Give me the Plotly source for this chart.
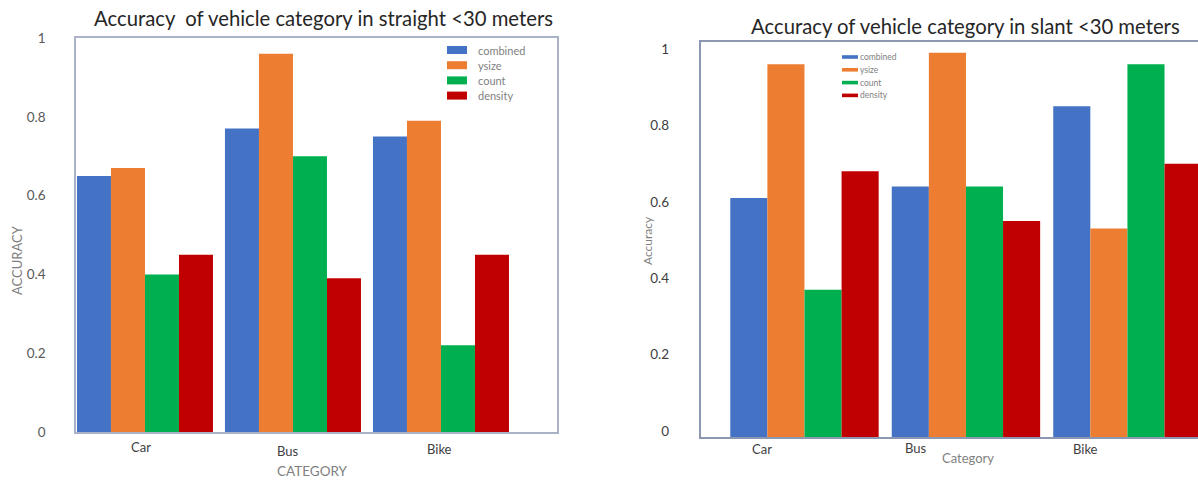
import plotly.graph_objects as go

# ---- data -------------------------------------------------------------
categories = ["Car", "Bus", "Bike"]
series_names = ["combined", "ysize", "count", "density"]

straight_combined = [0.65, 0.77, 0.75]
straight_ysize = [0.67, 0.96, 0.79]
straight_count = [0.40, 0.70, 0.22]
straight_density = [0.45, 0.39, 0.45]

slant_combined = [0.61, 0.64, 0.85]
slant_ysize = [0.96, 0.99, 0.53]
slant_count = [0.37, 0.64, 0.96]
slant_density = [0.68, 0.55, 0.70]

y_ticks = [0, 0.2, 0.4, 0.6, 0.8, 1.0]
y_tick_text = ["0", "0.2", "0.4", "0.6", "0.8", "1"]

# ---- styling ----------------------------------------------------------
colors = ["#4472C4", "#ED7D31", "#00B050", "#C00000"]
FONT = "Lato, 'Open Sans', sans-serif"
TICK_COLOR = "#595959"
LABEL_COLOR = "#404040"
FRAME_LEFT = "#A9B2C7"
FRAME_RIGHT = "#8C97B1"
W, H = 1198, 481

# pixel helpers for paper coordinates (origin top-left)
def px(x):
    return x / W

def py(y):
    return 1 - y / H

straight = [straight_combined, straight_ysize, straight_count, straight_density]
slant = [slant_combined, slant_ysize, slant_count, slant_density]

# floor of the right-hand value axis; bars rest on the axis line there
SLANT_YMIN = -0.018

fig = go.Figure()

for name, vals, col in zip(series_names, straight, colors):
    fig.add_trace(go.Bar(
        x=categories, y=vals, name=name, marker_color=col,
        marker_line_width=0, xaxis="x", yaxis="y", showlegend=False,
    ))

for name, vals, col in zip(series_names, slant, colors):
    fig.add_trace(go.Bar(
        x=categories, y=[v - SLANT_YMIN for v in vals], base=SLANT_YMIN,
        customdata=vals, hovertemplate="%{x}: %{customdata}<extra>" + name + "</extra>",
        name=name, marker_color=col, marker_line_width=0,
        xaxis="x2", yaxis="y2", showlegend=False,
    ))

annotations = []
shapes = []

# ---- left panel: straight ---------------------------------------------
annotations.append(dict(
    text="Accuracy  of vehicle category in straight <30 meters",
    xref="paper", yref="paper", x=px(323), y=py(18), showarrow=False,
    font=dict(family=FONT, size=20.3, color="#262626"), xanchor="center", yanchor="middle",
))
left_cat_shift = [(-4, 447), (-5, 451), (-1, 449)]
for cat, (dx, yy) in zip(categories, left_cat_shift):
    annotations.append(dict(
        text=cat, xref="x", yref="paper", x=cat, y=py(yy), xshift=dx,
        showarrow=False, font=dict(family=FONT, size=13, color=LABEL_COLOR),
        xanchor="center", yanchor="middle",
    ))
annotations.append(dict(
    text="CATEGORY", xref="paper", yref="paper", x=px(312), y=py(471),
    showarrow=False, font=dict(family=FONT, size=13.5, color="#7F7F7F"),
    xanchor="center", yanchor="middle",
))
annotations.append(dict(
    text="ACCURACY", xref="paper", yref="paper", x=px(17), y=py(260),
    showarrow=False, textangle=-90, font=dict(family=FONT, size=13, color="#7F7F7F"),
    xanchor="center", yanchor="middle",
))

# legend block for the left panel
for i, (name, col) in enumerate(zip(series_names, colors)):
    cy = 50 + i * 15.2
    shapes.append(dict(type="rect", xref="paper", yref="paper",
                       x0=px(447), x1=px(467), y0=py(cy - 4), y1=py(cy + 4),
                       fillcolor=col, line_width=0))
    annotations.append(dict(
        text=name, xref="paper", yref="paper", x=px(476), y=py(cy),
        showarrow=False, font=dict(family=FONT, size=11, color="#7F7F7F"),
        xanchor="left", yanchor="middle",
    ))

# ---- right panel: slant -----------------------------------------------
annotations.append(dict(
    text="Accuracy of vehicle category in slant <30 meters",
    xref="paper", yref="paper", x=px(965), y=py(26), showarrow=False,
    font=dict(family=FONT, size=20.3, color="#262626"), xanchor="center", yanchor="middle",
))
right_cat_shift = [(-42, 449), (-50, 448), (-42, 449)]
for cat, (dx, yy) in zip(categories, right_cat_shift):
    annotations.append(dict(
        text=cat, xref="x2", yref="paper", x=cat, y=py(yy), xshift=dx,
        showarrow=False, font=dict(family=FONT, size=13, color=LABEL_COLOR),
        xanchor="center", yanchor="middle",
    ))
annotations.append(dict(
    text="Category", xref="paper", yref="paper", x=px(968), y=py(458),
    showarrow=False, font=dict(family=FONT, size=13, color="#7F7F7F"),
    xanchor="center", yanchor="middle",
))
annotations.append(dict(
    text="Accuracy", xref="paper", yref="paper", x=px(647), y=py(240),
    showarrow=False, textangle=-90, font=dict(family=FONT, size=12, color="#7F7F7F"),
    xanchor="center", yanchor="middle",
))

# compact legend block for the right panel
for i, (name, col) in enumerate(zip(series_names, colors)):
    cy = 57 + i * 12.8
    shapes.append(dict(type="rect", xref="paper", yref="paper",
                       x0=px(842), x1=px(858), y0=py(cy - 1.8), y1=py(cy + 1.8),
                       fillcolor=col, line_width=0))
    annotations.append(dict(
        text=name, xref="paper", yref="paper", x=px(858), y=py(cy),
        showarrow=False, font=dict(family=FONT, size=8.5, color="#7F7F7F"),
        xanchor="left", yanchor="middle",
    ))

# right frame; its right edge runs off the canvas
shapes.append(dict(type="rect", xref="paper", yref="paper",
                   x0=px(700), x1=1.01, y0=py(438), y1=py(41),
                   line=dict(color=FRAME_RIGHT, width=2), fillcolor="rgba(0,0,0,0)",
                   layer="above"))

fig.update_layout(
    width=W, height=H,
    margin=dict(l=0, r=0, t=0, b=0, pad=0, autoexpand=False),
    paper_bgcolor="white", plot_bgcolor="white",
    barmode="group",
    bargap=0.081,
    font=dict(family=FONT),
    xaxis=dict(
        domain=[px(76), px(557)], range=[-0.466, 2.784],
        showticklabels=False, ticks="", showgrid=False, zeroline=False,
        showline=True, mirror=True, linecolor=FRAME_LEFT, linewidth=1.5,
        anchor="y", automargin=False,
    ),
    yaxis=dict(
        domain=[py(432), py(38)], range=[0, 1],
        tickvals=y_ticks, ticktext=y_tick_text, ticks="", ticklabelstandoff=26,
        tickfont=dict(family=FONT, size=13.5, color=TICK_COLOR),
        showgrid=False, zeroline=False,
        showline=True, mirror=True, linecolor=FRAME_LEFT, linewidth=1.5,
        anchor="x", automargin=False,
    ),
    xaxis2=dict(
        domain=[px(700), 1.0], range=[-0.647, 2.437],
        showticklabels=False, ticks="", showgrid=False, zeroline=False,
        showline=False, anchor="y2", automargin=False,
    ),
    yaxis2=dict(
        domain=[py(438), py(41)], range=[SLANT_YMIN, 1.021],
        tickvals=y_ticks, ticktext=y_tick_text, ticks="", ticklabelstandoff=30,
        tickfont=dict(family=FONT, size=13.5, color=LABEL_COLOR),
        showgrid=False, zeroline=False, showline=False,
        anchor="x2", automargin=False,
    ),
    annotations=annotations,
    shapes=shapes,
)

fig.write_html("out.html")
